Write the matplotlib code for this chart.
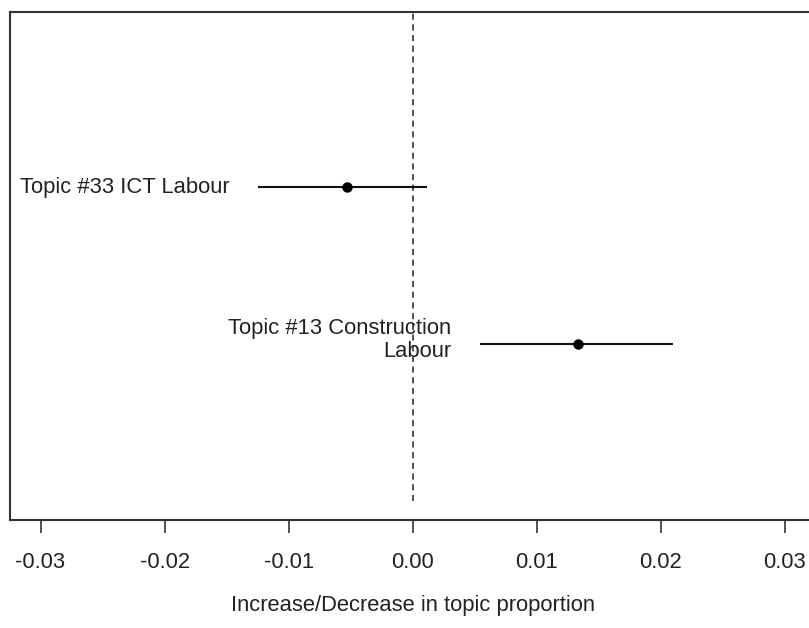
import matplotlib
matplotlib.use("Agg")
import matplotlib.pyplot as plt

plt.rcParams['font.family'] = ['Liberation Sans', 'DejaVu Sans']

# Estimated difference in topic proportion with 95% intervals
topics = ["Topic #33 ICT Labour", "Topic #13 Construction\nLabour"]
positions = [2, 1]
estimates = [-0.00532, 0.01330]
lower = [-0.01244, 0.00542]
upper = [0.00113, 0.02095]
tick_values = [-0.03, -0.02, -0.01, 0.00, 0.01, 0.02, 0.03]
tick_labels = ["-0.03", "-0.02", "-0.01", "0.00", "0.01", "0.02", "0.03"]

W, H = 809, 628
fig = plt.figure(figsize=(W / 100, H / 100), dpi=100)
ax = fig.add_axes([9.5 / W, 1 - 520 / H, (816 - 9.5) / W, (520 - 11.7) / H])

ax.set_xlim(-0.0325, 0.0325)
ax.set_ylim(-0.12, 3.12)

# zero reference line
ax.vlines(0, 0, 3.12, colors='#222222', linewidth=1.1, linestyles=(0, (4, 3)))

for lab, y, est, lo, hi in zip(topics, positions, estimates, lower, upper):
    ax.hlines(y, lo, hi, colors='#111111', linewidth=1.5)
    ax.plot(est, y, 'o', color='black', markersize=6.5)
    dy = 3 if "\n" in lab else 0
    ax.annotate(lab, (lo, y), xytext=(-20.5, dy), textcoords='offset points',
                ha='right', va='center', fontsize=15.8, color='#222222',
                linespacing=1.08)

ax.set_xticks(tick_values)
ax.set_xticklabels(tick_labels)
ax.set_yticks([])
ax.tick_params(axis='x', length=9.4, width=1.2, pad=13.5, labelsize=15.8,
               colors='#333333', labelcolor='#222222')
for s in ax.spines.values():
    s.set_color('#333333')
    s.set_linewidth(1.5)

fig.text(412.7 / W, 1 - 605 / H, "Increase/Decrease in topic proportion",
         ha='center', va='center', fontsize=15.8, color='#222222')

fig.savefig("out.png", dpi=100)
